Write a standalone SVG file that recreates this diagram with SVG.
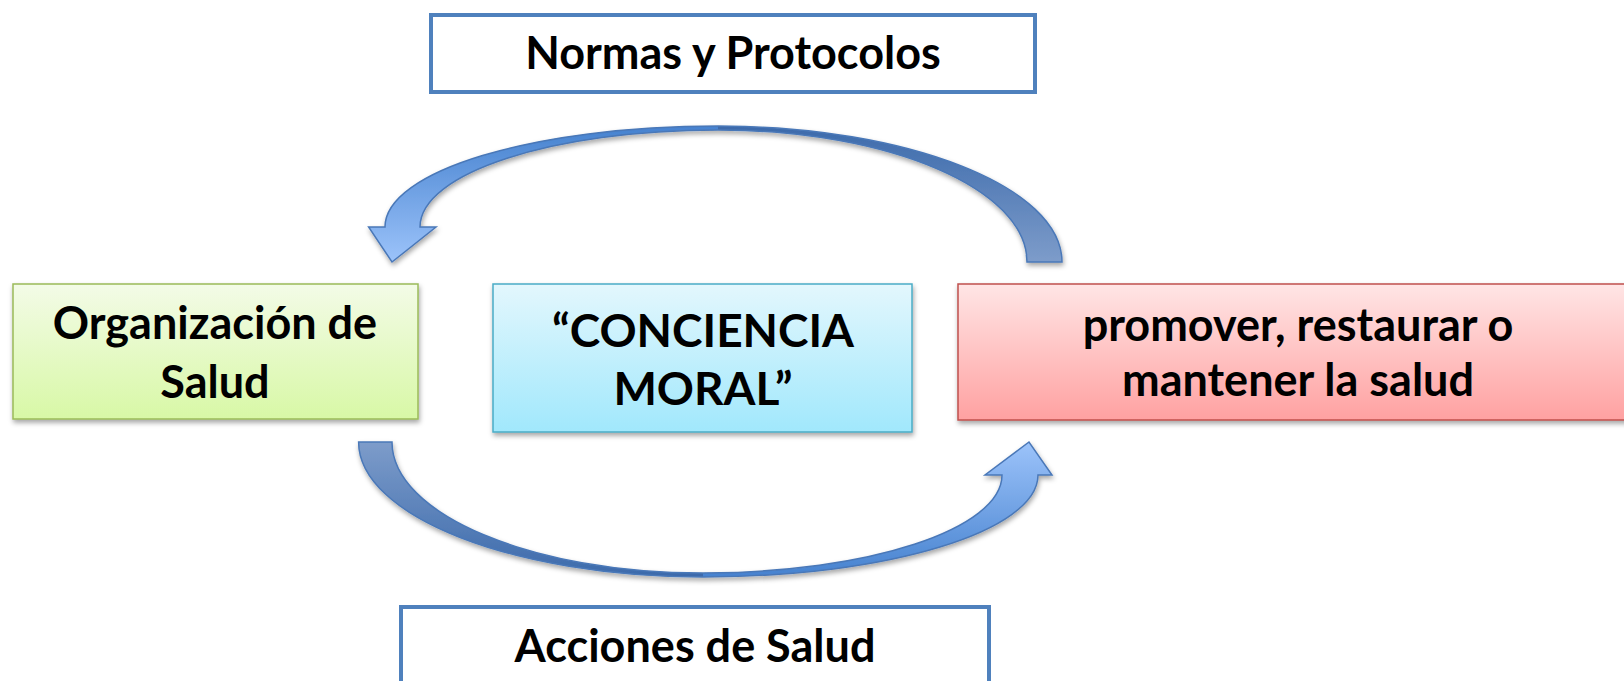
<svg xmlns="http://www.w3.org/2000/svg" width="1624" height="681" viewBox="0 0 1624 681">
<defs>
<style>
text{font-family:Lato,"Open Sans","Liberation Sans",sans-serif;font-weight:bold;fill:#000;text-anchor:middle}
.t{font-size:45px}
.c{font-size:46px}
.frame{fill:#fff;stroke:#4F81BD;stroke-width:4}
.arrowline{fill:none;stroke:#4A78B8;stroke-width:1.5;stroke-linejoin:miter}
</style>
<linearGradient id="gGreen" x1="0" y1="0" x2="0" y2="1"><stop offset="0" stop-color="#F3FBE7"/><stop offset="1" stop-color="#D8F8A6"/></linearGradient>
<linearGradient id="gBlue" x1="0" y1="0" x2="0" y2="1"><stop offset="0" stop-color="#E3F7FD"/><stop offset="1" stop-color="#A1E8FC"/></linearGradient>
<linearGradient id="gRed" x1="0" y1="0" x2="0" y2="1"><stop offset="0" stop-color="#FFE5E5"/><stop offset="1" stop-color="#FFA1A1"/></linearGradient>
<linearGradient id="gTopL" x1="0" y1="0" x2="0" y2="1"><stop offset="0" stop-color="#4682CF"/><stop offset="1" stop-color="#9CC3FA"/></linearGradient>
<linearGradient id="gTopR" x1="0" y1="0" x2="0" y2="1"><stop offset="0" stop-color="#3C6AAB"/><stop offset="1" stop-color="#7D9CCA"/></linearGradient>
<linearGradient id="gBotL" x1="0" y1="1" x2="0" y2="0"><stop offset="0" stop-color="#3C6AAB"/><stop offset="1" stop-color="#7D9CCA"/></linearGradient>
<linearGradient id="gBotR" x1="0" y1="1" x2="0" y2="0"><stop offset="0" stop-color="#4682CF"/><stop offset="1" stop-color="#9CC3FA"/></linearGradient>
<filter id="sh" x="-10%" y="-10%" width="120%" height="130%"><feDropShadow dx="1" dy="3" stdDeviation="2.5" flood-color="#000" flood-opacity="0.35"/></filter>
</defs>

<g id="connectors">
  <g id="arrow-top" filter="url(#sh)">
    <path fill="url(#gTopR)" d="M1062,262 C1062,187 908,126 718,126 L718,130 C889,130 1027,189 1027,262 Z"/>
    <path fill="url(#gTopL)" d="M718,126 C534,126 385,171 385,227 L368.6,227 L392,262 L436,227 L420,227 C420,173 553,130 718,130 Z"/>
    <path class="arrowline" d="M1062,262 C1062,187 908,126 718,126 C534,126 385,171 385,227 L368.6,227 L392,262 L436,227 L420,227 C420,173 553,130 718,130 C889,130 1027,189 1027,262 Z"/>
  </g>
  <g id="arrow-bottom" filter="url(#sh)">
    <path fill="url(#gBotL)" d="M358.6,442 C358.6,516 513,577 703,577 L703,573 C531,573 392,514 392,442 Z"/>
    <path fill="url(#gBotR)" d="M703,577 C888,577 1038,531 1038,475 L1052,475 L1029,442 L985,475 L1002,475 C1002,529 868,573 703,573 Z"/>
    <path class="arrowline" d="M358.6,442 C358.6,516 513,577 703,577 C888,577 1038,531 1038,475 L1052,475 L1029,442 L985,475 L1002,475 C1002,529 868,573 703,573 C531,573 392,514 392,442 Z"/>
  </g>
</g>

<g id="normas">
  <rect class="frame" x="431" y="15" width="604" height="77"/>
  <text class="t" x="733" y="69">Normas y Protocolos</text>
</g>

<g id="organizacion">
  <rect x="13" y="284" width="405" height="135" fill="url(#gGreen)" stroke="#9BBB59" stroke-width="1.5" filter="url(#sh)"/>
  <text class="t" x="215" y="339">Organización de</text>
  <text class="t" x="215" y="398">Salud</text>
</g>

<g id="conciencia">
  <rect x="493" y="284" width="419" height="148" fill="url(#gBlue)" stroke="#4BACC6" stroke-width="1.5" filter="url(#sh)"/>
  <text class="c" x="703" y="347">“CONCIENCIA</text>
  <text class="c" x="703" y="405">MORAL”</text>
</g>

<g id="promover">
  <rect x="958" y="284" width="680" height="136" fill="url(#gRed)" stroke="#C0504D" stroke-width="1.5" filter="url(#sh)"/>
  <text class="t" x="1298" y="341">promover, restaurar o</text>
  <text class="t" x="1298" y="396">mantener la salud</text>
</g>

<g id="acciones">
  <rect class="frame" x="401" y="607" width="588" height="90"/>
  <text class="t" x="695" y="662">Acciones de Salud</text>
</g>
</svg>
